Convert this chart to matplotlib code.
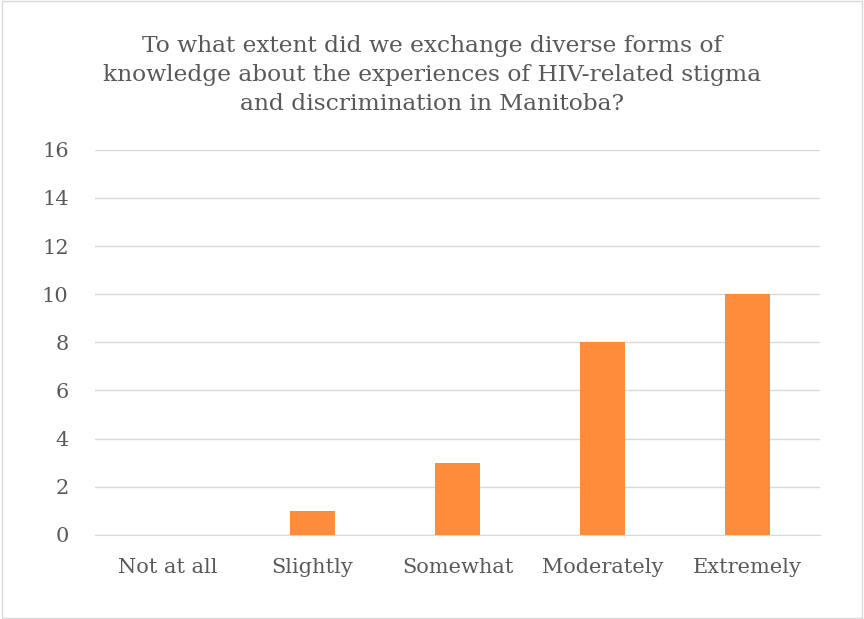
import matplotlib.pyplot as plt
from matplotlib.patches import Rectangle

categories = ["Not at all", "Slightly", "Somewhat", "Moderately", "Extremely"]
counts = [0, 1, 3, 8, 10]
yticks = [0, 2, 4, 6, 8, 10, 12, 14, 16]

title = ("To what extent did we exchange diverse forms of\n"
         "knowledge about the experiences of HIV-related stigma\n"
         "and discrimination in Manitoba?")

plt.rcParams['font.family'] = ['DejaVu Serif']
text_color = "#595959"

fig = plt.figure(figsize=(8.64, 6.19), dpi=100)
ax = fig.add_axes([0.11, 0.136, 0.839, 0.622])

x = range(len(categories))
ax.bar(x, counts, width=0.31, color="#FF8C3A", zorder=3)

ax.set_xlim(-0.5, len(categories) - 0.5)
ax.set_ylim(0, 16)
ax.set_yticks(yticks)
ax.set_xticks(list(x))
ax.set_xticklabels(categories)
ax.tick_params(axis="both", length=0, labelsize=15, colors=text_color)
ax.tick_params(axis="x", pad=17)
ax.tick_params(axis="y", pad=19)
ax.grid(axis="y", color="#D9D9D9", linewidth=1, zorder=0)
for side in ["top", "right", "left"]:
    ax.spines[side].set_visible(False)
ax.spines["bottom"].set_color("#D9D9D9")

fig.text(0.5, 1 - 75 / 619, title, ha="center", va="center", fontsize=16.8,
         color=text_color, linespacing=1.4)

# light border around the chart
fig.patches.append(Rectangle((0.002, 0.002), 0.996, 0.996, transform=fig.transFigure,
                             fill=False, edgecolor="#D9D9D9", linewidth=1))

fig.savefig("out.png", dpi=100)
